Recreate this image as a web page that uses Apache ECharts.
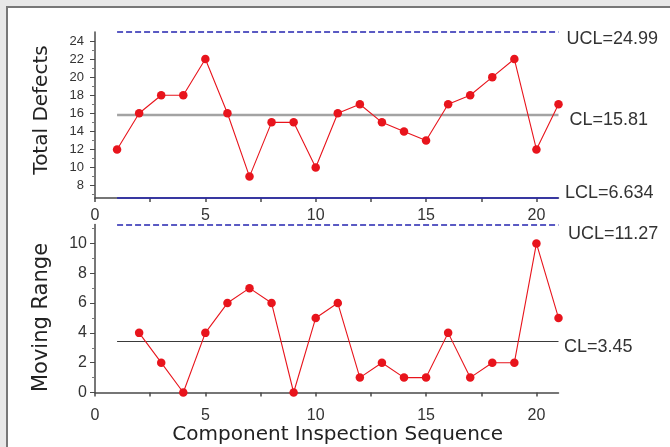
<!DOCTYPE html>
<html><head><meta charset="utf-8">
<script src="https://cdn.jsdelivr.net/npm/echarts@6/dist/echarts.min.js"></script>
<style>html,body{margin:0;padding:0;background:#e8e8e8}#c{width:670px;height:447px}</style>
</head><body><div id="c"></div>
<script>
// ---- data ----
const sequence = [1,2,3,4,5,6,7,8,9,10,11,12,13,14,15,16,17,18,19,20,21];
const totalDefects = [12,16,18,18,22,16,9,15,15,10,16,17,15,14,13,17,18,20,22,12,17];
const movingRange = [null,4,2,0,4,6,7,6,0,5,6,1,2,1,1,4,1,2,2,10,5];
const topLimits = [24.99, 15.81, 6.634];      // UCL, CL, LCL
const bottomLimits = [11.27, 3.45];           // UCL, CL
const xTickLabels = [0,5,10,15,20];
const xTicks = [0,2.5,5,7.5,10,12.5,15,17.5,20];
const topYTickLabels = [8,10,12,14,16,18,20,22,24];
const topYMinorTicks = [7,9,11,13,15,17,19,21,23];
const bottomYTickLabels = [0,2,4,6,8,10];
const bottomYMinorTicks = [1,3,5,7,9,11];

const first = sequence[0], last = sequence[sequence.length - 1];
const ARIAL = 'Liberation Sans, Arial, sans-serif';
const TITLE = 'DejaVu Sans, sans-serif';
const axisColor = '#4a4a4a';
const red = '#e8141c';
const navy = '#2424b0';

function limitLine(value, lineStyle) {
  return [
    { coord: [first, value], lineStyle: lineStyle },
    { coord: [last, value] }
  ];
}
function limitText(value, text, dist, dy) {
  return {
    coord: [last, value], symbol: 'rect', symbolSize: 0,
    itemStyle: { color: 'rgba(0,0,0,0)' },
    label: { show: true, position: 'right', distance: dist, offset: [0, dy], formatter: text,
             color: '#333', fontSize: 18, fontFamily: ARIAL }
  };
}

function xAxisCfg(gridIndex, margin, name) {
  return {
    type: 'value', gridIndex: gridIndex, min: 0, max: last,
    axisLine: { show: true, onZero: false, lineStyle: { color: axisColor, width: 1.5 } },
    axisTick: { show: true, customValues: xTicks, length: 4, lineStyle: { color: axisColor, width: 1.5 } },
    axisLabel: { customValues: xTickLabels, fontSize: 16, fontFamily: ARIAL, color: '#333', margin: margin },
    splitLine: { show: false },
    name: name || '', nameLocation: 'middle', nameGap: 29,
    nameTextStyle: { fontSize: 20, fontFamily: TITLE, color: '#222', padding: [0, 0, 0, 22] }
  };
}
function yAxisCfg(gridIndex, min, max, labels, fontSize, margin, name, nameSize, namePad) {
  return {
    type: 'value', gridIndex: gridIndex, position: 'left', min: min, max: max,
    axisLine: { show: true, onZero: false, lineStyle: { color: axisColor, width: 1.5 } },
    axisTick: { show: true, customValues: labels, length: 5, lineStyle: { color: axisColor } },
    axisLabel: { customValues: labels, fontSize: fontSize, fontFamily: ARIAL, color: '#333', margin: margin },
    splitLine: { show: false },
    name: name, nameLocation: 'middle', nameGap: 43,
    nameTextStyle: { fontSize: nameSize, fontFamily: TITLE, color: '#222', padding: namePad }
  };
}
function yMinorCfg(gridIndex, min, max, ticks) {
  return {
    type: 'value', gridIndex: gridIndex, position: 'left', min: min, max: max,
    axisLine: { show: false }, axisLabel: { show: false }, splitLine: { show: false },
    axisTick: { show: true, customValues: ticks, length: 3, lineStyle: { color: '#777' } }
  };
}

const chart = echarts.init(document.getElementById('c'), null, { renderer: 'canvas' });
chart.setOption({
  backgroundColor: '#e8e8e8',
  animation: false,
  graphic: [{
    type: 'rect', z: -10, silent: true,
    shape: { x: 7, y: 7, width: 700, height: 500 },
    style: { fill: '#ffffff', stroke: '#777777', lineWidth: 2 }
  }],
  grid: [
    { left: 95, top: 32, width: 463.5, height: 166 },
    { left: 95, top: 224.5, width: 463.5, height: 168 }
  ],
  xAxis: [
    xAxisCfg(0, 10),
    xAxisCfg(1, 15, 'Component Inspection Sequence')
  ],
  yAxis: [
    yAxisCfg(0, topLimits[2], topLimits[0], topYTickLabels, 13, 11, 'Total Defects', 20, [0, 0, 0, 10]),
    yMinorCfg(0, topLimits[2], topLimits[0], topYMinorTicks),
    yAxisCfg(1, 0, bottomLimits[0], bottomYTickLabels, 16, 8, 'Moving Range', 21, [0, 18, 0, 0]),
    yMinorCfg(1, 0, bottomLimits[0], bottomYMinorTicks)
  ],
  series: [
    {
      type: 'line', xAxisIndex: 0, yAxisIndex: 0,
      data: sequence.map((x, i) => [x, totalDefects[i]]),
      symbol: 'circle', symbolSize: 8.5,
      itemStyle: { color: red }, lineStyle: { color: red, width: 1.1 },
      z: 5,
      markLine: {
        symbol: 'none', silent: true, animation: false, label: { show: false },
        data: [
          limitLine(topLimits[0], { color: navy, type: [6, 3], width: 1.5 }),
          limitLine(topLimits[1], { color: '#a3a3a3', type: 'solid', width: 2.4 }),
          limitLine(topLimits[2], { color: navy, type: 'solid', width: 1.5 })
        ]
      },
      markPoint: {
        silent: true, animation: false,
        data: [
          limitText(topLimits[0], 'UCL=' + topLimits[0], 8, 7),
          limitText(topLimits[1], 'CL=' + topLimits[1], 11, 5),
          limitText(topLimits[2], 'LCL=' + topLimits[2], 6.5, -5)
        ]
      }
    },
    {
      type: 'line', xAxisIndex: 1, yAxisIndex: 2,
      data: sequence.map((x, i) => [x, movingRange[i]]).filter(d => d[1] !== null),
      symbol: 'circle', symbolSize: 8.5,
      itemStyle: { color: red }, lineStyle: { color: red, width: 1.1 },
      z: 5,
      markLine: {
        symbol: 'none', silent: true, animation: false, label: { show: false },
        data: [
          limitLine(bottomLimits[0], { color: navy, type: [6, 3], width: 1.5 }),
          limitLine(bottomLimits[1], { color: '#3a3a3a', type: 'solid', width: 1.2 })
        ]
      },
      markPoint: {
        silent: true, animation: false,
        data: [
          limitText(bottomLimits[0], 'UCL=' + bottomLimits[0], 9.5, 10),
          limitText(bottomLimits[1], 'CL=' + bottomLimits[1], 5.5, 6)
        ]
      }
    }
  ]
});
</script></body></html>
